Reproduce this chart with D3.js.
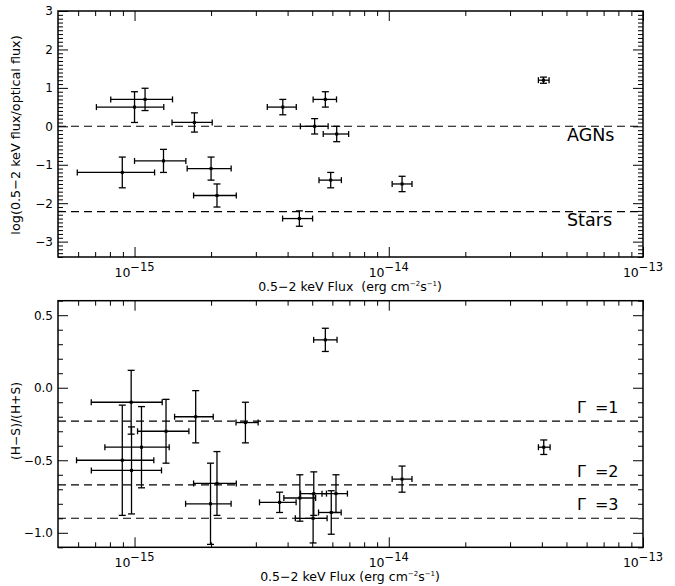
<!DOCTYPE html>
<html>
<head>
<meta charset="utf-8">
<script src="https://cdn.jsdelivr.net/npm/d3@7"></script>
<style>
  body { margin: 0; background: #fff; }
  text { font-family: "DejaVu Sans", sans-serif; fill: #000; white-space: pre; }
</style>
</head>
<body>
<div id="chart"></div>
<script>
// top panel: X-ray to optical flux ratio
let fluxTop = [1.0e-15, 1.10e-15, 1.72e-15, 0.895e-15, 1.30e-15, 2.0e-15, 2.11e-15, 3.83e-15,
  4.45e-15, 5.11e-15, 5.63e-15, 6.24e-15, 5.91e-15, 1.128e-14, 4.06e-14]
// flux errors in dex, below and above
let fluxLoTop = [0.15, 0.135, 0.088, 0.177, 0.114, 0.094, 0.092, 0.061, 0.066, 0.056, 0.048, 0.053, 0.046, 0.039, 0.02]
let fluxHiTop = [0.115, 0.108, 0.07, 0.127, 0.088, 0.079, 0.076, 0.053, 0.052, 0.053, 0.044, 0.047, 0.042, 0.039, 0.022]
let ratio = [0.5, 0.7, 0.1, -1.2, -0.9, -1.1, -1.8, 0.5, -2.4, 0.0, 0.7, -0.2, -1.4, -1.5, 1.2]
let ratioErr = [0.4, 0.29, 0.25, 0.4, 0.3, 0.3, 0.3, 0.2, 0.2, 0.2, 0.2, 0.2, 0.2, 0.2, 0.08]

// bottom panel: hardness ratio
let fluxBot = [5.63e-15, 0.97e-15, 1.33e-15, 1.065e-15, 0.895e-15, 0.973e-15, 1.74e-15, 2.73e-15, 2.11e-15,
  1.99e-15, 3.72e-15, 4.47e-15, 5.07e-15, 5.04e-15, 6.2e-15, 5.94e-15, 1.128e-14, 4.07e-14]
let fluxLoBot = [0.046, 0.157, 0.112, 0.144, 0.18, 0.158, 0.083, 0.037, 0.092, 0.098, 0.079, 0.063, 0.052, 0.07, 0.055, 0.05, 0.039, 0.021]
let fluxHiBot = [0.046, 0.122, 0.09, 0.109, 0.124, 0.118, 0.069, 0.05, 0.076, 0.081, 0.065, 0.062, 0.05, 0.055, 0.045, 0.039, 0.039, 0.025]
let hr = [0.33, -0.10, -0.30, -0.41, -0.50, -0.57, -0.20, -0.24, -0.66, -0.80, -0.79, -0.76, -0.73, -0.90, -0.73, -0.86, -0.63, -0.41]
let hrErr = [0.08, 0.22, 0.22, 0.28, 0.38, 0.30, 0.18, 0.14, 0.22, 0.28, 0.07, 0.16, 0.15, 0.17, 0.13, 0.15, 0.09, 0.05]

// reference lines
let topLines = [0, -2.22]
let topLineLabels = ['AGNs', 'Stars']
let botLines = [-0.23, -0.67, -0.9]
let botLineLabels = ['1', '2', '3']

let xDecades = [-15, -14, -13]

let width = 675
let height = 586
let left = 58
let right = 643

let svg = d3
  .select('#chart')
  .append('svg')
  .attr('width', width)
  .attr('height', height)

let xScale = d3.scaleLog().domain([5e-16, 1e-13]).range([left, right])
let yTop = d3.scaleLinear().domain([-3.4, 3]).range([257, 11])
let yBot = d3.scaleLinear().domain([-1.1, 0.6]).range([547.3, 300.7])

// minor log ticks: 2..9 in each decade inside the domain
let xMinor = []
for (let e = -16; e <= -14; e++) {
  for (let m = 2; m <= 9; m++) {
    let v = m * Math.pow(10, e)
    if (v > 5e-16 && v < 1e-13) xMinor.push(v)
  }
}
let xMajor = xDecades.map(e => Math.pow(10, e))

function frame(y, majorY, minorY, yFormat) {
  let g = svg.append('g')
  let [y0, y1] = y.range()

  // x ticks on bottom and top
  g.append('g').attr('transform', `translate(0,${y0})`)
    .call(d3.axisBottom(xScale).tickValues(xMinor).tickSize(-5).tickFormat(''))
  g.append('g').attr('transform', `translate(0,${y0})`)
    .call(d3.axisBottom(xScale).tickValues(xMajor).tickSize(-10).tickFormat(''))
  g.append('g').attr('transform', `translate(0,${y1})`)
    .call(d3.axisTop(xScale).tickValues(xMinor).tickSize(-5).tickFormat(''))
  g.append('g').attr('transform', `translate(0,${y1})`)
    .call(d3.axisTop(xScale).tickValues(xMajor).tickSize(-10).tickFormat(''))

  // y ticks on left and right
  g.append('g').attr('transform', `translate(${left},0)`)
    .call(d3.axisLeft(y).tickValues(minorY).tickSize(-5).tickFormat(''))
  g.append('g').attr('transform', `translate(${left},0)`)
    .call(d3.axisLeft(y).tickValues(majorY).tickSize(-10).tickFormat(''))
  g.append('g').attr('transform', `translate(${right},0)`)
    .call(d3.axisRight(y).tickValues(minorY).tickSize(-5).tickFormat(''))
  g.append('g').attr('transform', `translate(${right},0)`)
    .call(d3.axisRight(y).tickValues(majorY).tickSize(-10).tickFormat(''))

  g.selectAll('.domain').remove()
  g.selectAll('.tick line').attr('stroke', '#000').attr('stroke-width', 1)

  g.append('rect')
    .attr('x', left)
    .attr('y', y1)
    .attr('width', right - left)
    .attr('height', y0 - y1)
    .attr('fill', 'none')
    .attr('stroke', '#000')
    .attr('stroke-width', 1.5)

  // y tick labels
  g.selectAll('.ylab')
    .data(majorY)
    .enter()
    .append('text')
    .attr('x', 53)
    .attr('y', d => y(d))
    .attr('dy', '0.37em')
    .attr('text-anchor', 'end')
    .attr('font-size', 12)
    .text(yFormat)

  // x tick labels as 10^n
  let lab = g.selectAll('.xlab')
    .data(xDecades)
    .enter()
    .append('text')
    .attr('x', d => xScale(Math.pow(10, d)))
    .attr('y', y0 + 19.5)
    .attr('text-anchor', 'middle')
    .attr('font-size', 12.5)
  lab.append('tspan').text('10')
  lab.append('tspan').attr('dy', -6).attr('font-size', 11.5).text(d => '−' + Math.abs(d))

  return g
}

function xTitle(yPos, gap) {
  let t = svg.append('text')
    .attr('x', 350)
    .attr('y', yPos)
    .attr('text-anchor', 'middle')
    .attr('font-size', 12.5)
  t.append('tspan').text('0.5−2 keV Flux' + gap + '(erg cm')
  t.append('tspan').attr('dy', -5).attr('font-size', 7).text('−2')
  t.append('tspan').attr('dy', 5).text('s')
  t.append('tspan').attr('dy', -5).attr('font-size', 7).text('−1')
  t.append('tspan').attr('dy', 5).text(')')
}

function errorBars(flux, lo, hi, val, err, y) {
  let pts = flux.map((f, i) => ({
    x: xScale(f),
    x0: xScale(f * Math.pow(10, -lo[i])),
    x1: xScale(f * Math.pow(10, hi[i])),
    y: y(val[i]),
    y0: y(val[i] - err[i]),
    y1: y(val[i] + err[i])
  }))
  let g = svg.append('g').attr('stroke', '#000').attr('stroke-width', 1.3).attr('fill', 'none')
  let p = g.selectAll('.pt').data(pts).enter().append('g')
  p.append('line').attr('x1', d => d.x0).attr('x2', d => d.x1).attr('y1', d => d.y).attr('y2', d => d.y)
  p.append('line').attr('x1', d => d.x).attr('x2', d => d.x).attr('y1', d => d.y0).attr('y2', d => d.y1)
  // caps
  p.append('line').attr('x1', d => d.x0).attr('x2', d => d.x0).attr('y1', d => d.y - 3).attr('y2', d => d.y + 3)
  p.append('line').attr('x1', d => d.x1).attr('x2', d => d.x1).attr('y1', d => d.y - 3).attr('y2', d => d.y + 3)
  p.append('line').attr('x1', d => d.x - 3.5).attr('x2', d => d.x + 3.5).attr('y1', d => d.y0).attr('y2', d => d.y0)
  p.append('line').attr('x1', d => d.x - 3.5).attr('x2', d => d.x + 3.5).attr('y1', d => d.y1).attr('y2', d => d.y1)
  p.append('rect').attr('x', d => d.x - 1.5).attr('y', d => d.y - 1.5).attr('width', 3).attr('height', 3)
    .attr('fill', '#000').attr('stroke', 'none')
}

function dashed(values, y) {
  svg.append('g')
    .selectAll('line')
    .data(values)
    .enter()
    .append('line')
    .attr('x1', left)
    .attr('x2', right)
    .attr('y1', d => y(d))
    .attr('y2', d => y(d))
    .attr('stroke', '#000')
    .attr('stroke-width', 1.1)
    .attr('stroke-dasharray', '8,5')
}

// ---- top panel
let topMinor = d3.range(-34, 31).map(d => d / 10).filter(d => Math.abs(d - Math.round(d)) > 1e-6)
frame(yTop, [-3, -2, -1, 0, 1, 2, 3], topMinor, d => (d < 0 ? '−' : '') + Math.abs(d))
dashed(topLines, yTop)
errorBars(fluxTop, fluxLoTop, fluxHiTop, ratio, ratioErr, yTop)

svg.selectAll('.toplab')
  .data(topLines)
  .enter()
  .append('text')
  .attr('x', 567)
  .attr('y', d => yTop(d) + 14.5)
  .attr('font-size', 17.5)
  .text((d, i) => topLineLabels[i])

svg.append('text')
  .attr('transform', `translate(20,135) rotate(-90)`)
  .attr('text-anchor', 'middle')
  .attr('font-size', 12.8)
  .text('log(0.5−2 keV flux/optical flux)')

xTitle(291, '  ')

// ---- bottom panel
let botMinor = d3.range(-11, 7).map(d => d / 10).filter(d => Math.abs(d * 2 - Math.round(d * 2)) > 1e-6)
frame(yBot, [-1.0, -0.5, 0.0, 0.5], botMinor, d => (d < 0 ? '−' : '') + Math.abs(d).toFixed(1))
dashed(botLines, yBot)
errorBars(fluxBot, fluxLoBot, fluxHiBot, hr, hrErr, yBot)

let gl = svg.selectAll('.botlab')
  .data(botLines)
  .enter()
  .append('text')
  .attr('x', 577)
  .attr('y', d => yBot(d) - 8)
  .attr('font-size', 16)
gl.append('tspan').text('Γ')
gl.append('tspan').attr('dx', 9).text((d, i) => '=' + botLineLabels[i])

svg.append('text')
  .attr('transform', `translate(20,421) rotate(-90)`)
  .attr('text-anchor', 'middle')
  .attr('font-size', 12.3)
  .text('(H−S)/(H+S)')

xTitle(581, ' ')
</script>
</body>
</html>
